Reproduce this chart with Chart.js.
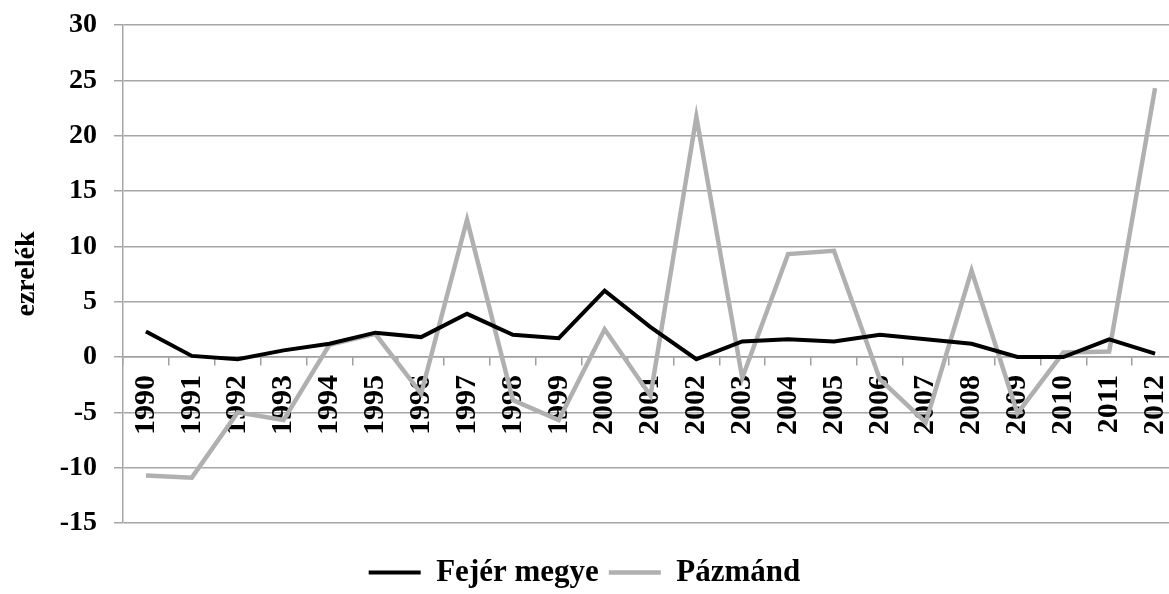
<!DOCTYPE html>
<html>
<head>
<meta charset="utf-8">
<script src="https://cdn.jsdelivr.net/npm/chart.js@4/dist/chart.umd.min.js"></script>
<style>
    html, body { margin: 0; padding: 0; background: #fff; }
    #wrap { width: 1169px; height: 594px; }
</style>
</head>
<body>
<div id="wrap"><canvas id="myChart"></canvas></div>
<script>
// Years on the category axis
const years = ['1990', '1991', '1992', '1993', '1994', '1995', '1996', '1997', '1998', '1999', '2000',
    '2001', '2002', '2003', '2004', '2005', '2006', '2007', '2008', '2009', '2010', '2011', '2012'];

// Series values (ezrelék)
const fejerMegye = [2.3, 0.1, -0.2, 0.6, 1.2, 2.2, 1.8, 3.9, 2.0, 1.7, 6.0,
    2.7, -0.2, 1.4, 1.6, 1.4, 2.0, 1.6, 1.2, 0.0, 0.0, 1.6, 0.3];
const pazmand = [-10.7, -10.9, -5.0, -5.7, 1.1, 2.1, -3.3, 12.4, -3.9, -5.7, 2.5,
    -3.5, 21.7, -1.9, 9.3, 9.6, -2.0, -5.9, 7.8, -5.1, 0.4, 0.5, 24.3];

// Y axis range
const yMin = -15;
const yMax = 30;
const yStep = 5;

const serif = 'Liberation Serif, Times New Roman, serif';

// The original plot runs a little past the right edge of the picture
const overflowRight = {
    id: 'overflowRight',
    afterLayout(chart) {
        const extra = 9;
        chart.chartArea.right += extra;
        chart.chartArea.width += extra;
        const x = chart.scales.x;
        x.right += extra;
        x.width += extra;
        x.configure();
    }
};

document.addEventListener('DOMContentLoaded', () => {
    const ctx = document.getElementById('myChart').getContext('2d');

    new Chart(ctx, {
        type: 'line',
        data: {
            labels: years,
            datasets: [{
                label: 'Fejér megye',
                data: fejerMegye,
                borderColor: '#000000',
                backgroundColor: '#000000',
                borderWidth: 4,
                pointRadius: 0,
                tension: 0
            }, {
                label: 'Pázmánd',
                data: pazmand,
                borderColor: '#b0b0b0',
                backgroundColor: '#b0b0b0',
                borderWidth: 4.5,
                pointRadius: 0,
                tension: 0
            }]
        },
        options: {
            responsive: true,
            maintainAspectRatio: false,
            animation: false,
            layout: {
                padding: { top: 25, right: 0, bottom: -4, left: 0 }
            },
            plugins: {
                tooltip: { enabled: false },
                legend: {
                    position: 'bottom',
                    labels: {
                        usePointStyle: true,
                        pointStyle: 'line',
                        pointStyleWidth: 52,
                        padding: 10,
                        color: '#000',
                        font: { family: serif, size: 31, weight: 'bold' }
                    }
                }
            },
            scales: {
                x: {
                    type: 'category',
                    offset: true,
                    position: { y: 0 },
                    z: 1,
                    afterFit: (scale) => {
                        scale.paddingLeft = 0;
                        scale.paddingRight = 0;
                    },
                    grid: {
                        drawOnChartArea: false,
                        drawTicks: true,
                        tickLength: 8,
                        offset: true,
                        color: '#a0a0a0',
                        lineWidth: 1.5
                    },
                    border: { color: '#a0a0a0', width: 1.5 },
                    ticks: {
                        autoSkip: false,
                        minRotation: 90,
                        maxRotation: 90,
                        padding: 10,
                        color: '#000',
                        font: { family: serif, size: 30, weight: 'bold' }
                    }
                },
                // empty axis that only keeps the gap between the plot and the legend
                gap: {
                    type: 'category',
                    position: 'bottom',
                    grid: { display: false },
                    border: { display: false },
                    ticks: { display: false },
                    afterFit: (scale) => {
                        scale.height = 24;
                        scale.paddingLeft = 0;
                        scale.paddingRight = 0;
                    }
                },
                y: {
                    min: yMin,
                    max: yMax,
                    afterFit: (scale) => {
                        scale.width = 123;
                        scale.paddingTop = 0;
                        scale.paddingBottom = 0;
                    },
                    grid: {
                        color: '#a6a6a6',
                        lineWidth: 1.5,
                        tickLength: 9
                    },
                    border: { color: '#a6a6a6', width: 1.5 },
                    ticks: {
                        stepSize: yStep,
                        padding: 17,
                        color: '#000',
                        font: { family: serif, size: 28, weight: 'bold' }
                    },
                    title: {
                        display: true,
                        text: 'ezrelék',
                        color: '#000',
                        padding: { top: 10, bottom: 0 },
                        font: { family: serif, size: 28, weight: 'bold' }
                    }
                }
            }
        },
        plugins: [overflowRight]
    });
});
</script>
</body>
</html>
